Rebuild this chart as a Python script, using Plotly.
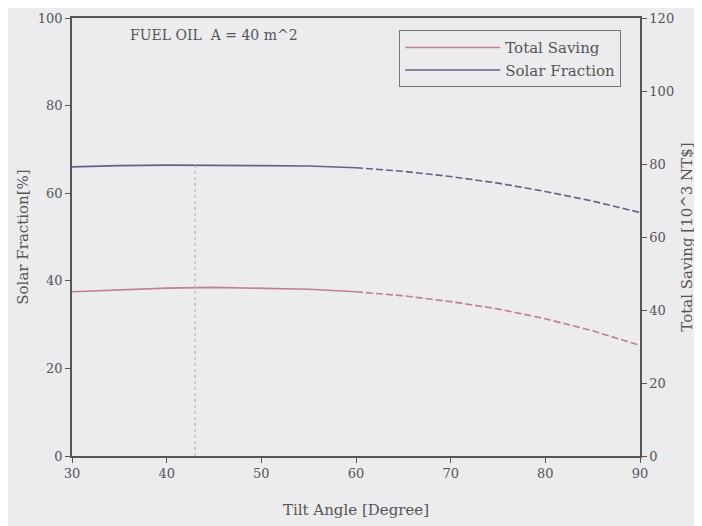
import plotly.graph_objects as go

tilt = [30, 35, 40, 45, 50, 55, 60, 65, 70, 75, 80, 85, 90]
solar_fraction = [66.0, 66.3, 66.4, 66.4, 66.3, 66.2, 65.8, 65.0, 63.8, 62.3, 60.4, 58.2, 55.6]
total_saving = [45.0, 45.6, 46.0, 46.2, 46.0, 45.7, 45.0, 43.9, 42.3, 40.3, 37.6, 34.3, 30.3]
optimum_tilt = 43

split = tilt.index(60)
ts_color = "#c07f92"
sf_color = "#5f6388"
axis_color = "#555555"
fam = "DejaVu Serif, Liberation Serif, serif"
font = dict(family=fam, size=13, color="#555555")
dash_style = "7px,3px"

fig = go.Figure()
fig.add_trace(go.Scatter(x=tilt[:split + 1], y=total_saving[:split + 1], mode="lines",
                         name="Total Saving", yaxis="y2",
                         line=dict(color=ts_color, width=1.6), legendgroup="ts"))
fig.add_trace(go.Scatter(x=tilt[split:], y=total_saving[split:], mode="lines",
                         name="Total Saving", yaxis="y2", showlegend=False,
                         line=dict(color=ts_color, width=1.6, dash=dash_style), legendgroup="ts"))
fig.add_trace(go.Scatter(x=tilt[:split + 1], y=solar_fraction[:split + 1], mode="lines",
                         name="Solar Fraction",
                         line=dict(color=sf_color, width=1.6), legendgroup="sf"))
fig.add_trace(go.Scatter(x=tilt[split:], y=solar_fraction[split:], mode="lines",
                         name="Solar Fraction", showlegend=False,
                         line=dict(color=sf_color, width=1.6, dash=dash_style), legendgroup="sf"))

fig.add_shape(type="line", x0=optimum_tilt, x1=optimum_tilt, y0=0,
              y1=solar_fraction[tilt.index(45)], xref="x", yref="y",
              line=dict(color="#aaaaaa", width=1, dash="dot"))

fig.add_annotation(text="FUEL OIL  A = 40 m^2", x=0.098, y=0.985, xref="paper", yref="paper",
                   xanchor="left", yanchor="top", showarrow=False,
                   font=dict(family=fam, size=14, color="#555555"))

fig.update_layout(
    width=694, height=518,
    margin=dict(l=64, r=62, t=10, b=70),
    paper_bgcolor="#ecebee", plot_bgcolor="#ecebee",
    font=font,
    showlegend=True,
    legend=dict(x=0.967, y=0.972, xanchor="right", yanchor="top",
                bgcolor="rgba(236,235,238,1)", bordercolor="#777777", borderwidth=1,
                font=dict(family=fam, size=15, color="#555555"),
                itemwidth=95, tracegroupgap=0),
    xaxis=dict(range=[30, 90], tickvals=[30, 40, 50, 60, 70, 80, 90],
               title=dict(text="Tilt Angle [Degree]", standoff=24,
                          font=dict(family=fam, size=15, color="#555555")),
               showgrid=False, zeroline=False, showline=True, linecolor=axis_color,
               linewidth=1.5, mirror=True, ticks="outside", ticklen=5,
               tickcolor=axis_color, automargin=False),
    yaxis=dict(range=[0, 100], tickvals=[0, 20, 40, 60, 80, 100],
               title=dict(text="Solar Fraction[%]", standoff=6,
                          font=dict(family=fam, size=15, color="#555555")),
               showgrid=False, zeroline=False, showline=True, linecolor=axis_color,
               linewidth=1.5, ticks="outside", ticklen=5, tickcolor=axis_color,
               automargin=False),
    yaxis2=dict(range=[0, 120], tickvals=[0, 20, 40, 60, 80, 100, 120],
                title=dict(text="Total Saving [10^3 NT$]", standoff=8,
                           font=dict(family=fam, size=15, color="#555555")),
                overlaying="y", side="right",
                showgrid=False, zeroline=False, showline=True, linecolor=axis_color,
                linewidth=1.5, ticks="outside", ticklen=5, tickcolor=axis_color,
                automargin=False),
)

fig.write_html("out.html")
